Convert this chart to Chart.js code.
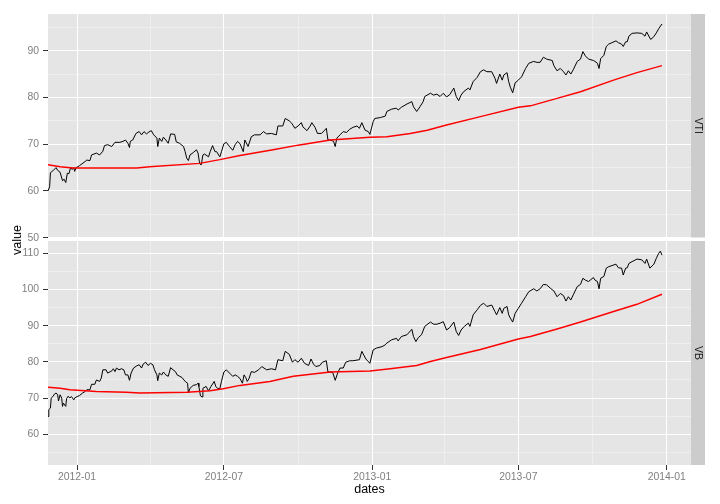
<!DOCTYPE html>
<html>
<head>
<meta charset="utf-8">
<script src="https://cdn.jsdelivr.net/npm/chart.js@4.4.0/dist/chart.umd.min.js"></script>
<style>
  body { margin: 0; background: #fff; }
  #wrap { position: relative; width: 720px; height: 504px; font-family: "Liberation Sans", Arial, sans-serif; }
  canvas { position: absolute; left: 0; }
  #top { top: 0; }
  #bottom { top: 241px; }
  #ylab { position: absolute; left: 16.5px; top: 239.5px; transform: translate(-50%, -50%) rotate(-90deg);
          font-size: 12.5px; color: #000; white-space: nowrap; }
</style>
</head>
<body>
<div id="wrap">
  <canvas id="top" width="720" height="241"></canvas>
  <canvas id="bottom" width="720" height="263"></canvas>
  <div id="ylab">value</div>
</div>
<script>
// VTI daily close
const vtiDates = ['2011-11-26','2011-11-28','2011-11-29','2011-12-02','2011-12-06','2011-12-08','2011-12-11','2011-12-14','2011-12-16','2011-12-18',
  '2011-12-20','2011-12-22','2011-12-24','2011-12-26','2011-12-28','2011-12-29','2011-12-31','2012-01-04','2012-01-11','2012-01-13',
  '2012-01-17','2012-01-19','2012-01-25','2012-01-29','2012-02-02','2012-02-04','2012-02-08','2012-02-13','2012-02-17','2012-02-23',
  '2012-02-27','2012-03-01','2012-03-04','2012-03-06','2012-03-07','2012-03-10','2012-03-14','2012-03-18','2012-03-21','2012-03-24',
  '2012-03-27','2012-03-30','2012-04-02','2012-04-05','2012-04-09','2012-04-10','2012-04-12','2012-04-15','2012-04-17','2012-04-20',
  '2012-04-23','2012-04-26','2012-05-01','2012-05-03','2012-05-07','2012-05-12','2012-05-14','2012-05-16','2012-05-18','2012-05-20',
  '2012-05-24','2012-05-28','2012-05-30','2012-06-01','2012-06-03','2012-06-05','2012-06-07','2012-06-12','2012-06-14','2012-06-17',
  '2012-06-20','2012-06-22','2012-06-26','2012-06-28','2012-07-01','2012-07-04','2012-07-08','2012-07-12','2012-07-15','2012-07-18',
  '2012-07-21','2012-07-25','2012-07-27','2012-07-31','2012-08-04','2012-08-08','2012-08-15','2012-08-19','2012-08-23','2012-08-29',
  '2012-09-04','2012-09-06','2012-09-12','2012-09-15','2012-09-20','2012-09-23','2012-09-27','2012-10-01','2012-10-05','2012-10-07',
  '2012-10-12','2012-10-16','2012-10-18','2012-10-22','2012-10-25','2012-10-30','2012-11-03','2012-11-05','2012-11-07','2012-11-10',
  '2012-11-14','2012-11-16','2012-11-18','2012-11-22','2012-11-26','2012-11-30','2012-12-04','2012-12-08','2012-12-13','2012-12-16',
  '2012-12-19','2012-12-23','2012-12-27','2012-12-29','2013-01-02','2013-01-04','2013-01-11','2013-01-17','2013-01-19','2013-01-25',
  '2013-01-31','2013-02-02','2013-02-06','2013-02-13','2013-02-19','2013-02-21','2013-02-25','2013-03-01','2013-03-05','2013-03-07',
  '2013-03-14','2013-03-18','2013-03-22','2013-03-26','2013-03-30','2013-04-03','2013-04-07','2013-04-12','2013-04-15','2013-04-18',
  '2013-04-21','2013-04-24','2013-04-30','2013-05-02','2013-05-06','2013-05-11','2013-05-15','2013-05-19','2013-05-23','2013-05-29',
  '2013-06-02','2013-06-04','2013-06-08','2013-06-11','2013-06-13','2013-06-17','2013-06-19','2013-06-21','2013-06-24','2013-06-27',
  '2013-07-01','2013-07-05','2013-07-10','2013-07-14','2013-07-20','2013-07-24','2013-07-28','2013-08-01','2013-08-05','2013-08-12',
  '2013-08-14','2013-08-18','2013-08-22','2013-08-26','2013-08-29','2013-09-01','2013-09-04','2013-09-07','2013-09-12','2013-09-16',
  '2013-09-19','2013-09-22','2013-09-26','2013-10-02','2013-10-04','2013-10-07','2013-10-09','2013-10-11','2013-10-15','2013-10-18',
  '2013-10-21','2013-10-25','2013-10-30','2013-11-02','2013-11-06','2013-11-08','2013-11-11','2013-11-13','2013-11-15','2013-11-19',
  '2013-11-25','2013-12-01','2013-12-05','2013-12-07','2013-12-12','2013-12-16','2013-12-19','2013-12-22','2013-12-26'];
const vtiClose = [60.0,60.9,63.9,64.3,65.0,64.4,64.0,62.2,62.5,61.8,
  63.8,63.7,65.0,64.6,65.0,64.2,65.0,65.4,66.3,66.6,
  66.5,67.7,68.1,67.7,68.5,69.7,69.9,69.5,70.4,70.4,
  70.6,70.9,70.2,69.3,70.6,70.9,72.3,72.7,72.0,72.7,
  72.2,72.6,72.9,72.0,71.3,69.5,71.3,70.6,71.5,70.9,
  70.2,72.2,72.1,70.5,70.2,69.5,68.4,67.0,66.5,67.7,
  68.2,68.8,68.1,65.8,65.6,67.7,67.9,67.3,68.4,69.7,
  68.4,68.4,67.3,68.4,70.1,70.4,69.5,68.7,69.9,70.6,
  70.1,68.4,70.9,69.5,71.6,72.0,72.0,72.7,72.2,72.3,
  72.0,73.9,73.9,75.5,75.0,74.5,73.4,73.9,74.6,73.7,
  72.9,73.9,74.6,73.6,72.3,72.3,73.0,73.4,70.9,70.9,
  70.6,69.5,71.3,72.0,72.7,72.5,73.2,73.6,73.9,73.4,
  74.6,73.0,72.7,72.1,74.8,75.5,75.7,76.0,77.0,77.5,
  77.7,77.3,77.9,78.6,79.1,78.0,77.0,78.0,79.1,80.2,
  80.9,80.5,80.7,80.2,80.9,80.1,80.6,82.0,80.2,79.3,
  80.5,81.2,82.0,81.6,83.4,84.3,85.5,85.9,85.5,85.5,
  84.1,83.0,85.0,83.7,84.8,85.3,83.4,82.2,81.0,83.1,
  83.7,84.4,86.2,87.3,87.7,87.5,87.5,88.6,88.2,87.9,
  86.8,85.7,86.2,85.5,84.8,85.7,85.0,85.9,87.7,88.2,
  89.8,88.9,88.2,87.9,87.7,87.3,86.2,88.3,89.0,90.9,
  91.4,91.7,92.1,91.7,91.4,90.9,91.9,91.9,93.1,93.7,
  93.8,93.7,93.1,94.0,92.4,93.0,93.8,94.7,95.7];

// VTI moving average
const vtiAvgDates = ['2011-11-26','2011-12-11','2011-12-27','2012-03-15','2012-03-31','2012-06-01','2012-06-26','2012-07-21',
  '2012-08-31','2012-10-01','2012-11-10','2012-12-29','2013-01-19','2013-02-17','2013-03-10','2013-04-03','2013-05-15',
  '2013-07-01','2013-07-16','2013-08-18','2013-09-16','2013-10-27','2013-11-25','2013-12-26'];
const vtiAvg = [65.6,65.2,64.9,64.9,65.2,65.9,66.7,67.6,
  68.8,69.8,70.9,71.5,71.6,72.3,73.0,74.1,75.9,
  77.9,78.2,79.8,81.2,83.7,85.3,86.8];

// VB daily close
const vbDates = ['2011-11-26','2011-11-27','2011-11-29','2011-11-30','2011-12-02','2011-12-04','2011-12-06','2011-12-08','2011-12-09','2011-12-11',
  '2011-12-13','2011-12-14','2011-12-15','2011-12-18','2011-12-19','2011-12-21','2011-12-23','2011-12-25','2011-12-28','2011-12-29',
  '2012-01-01','2012-01-04','2012-01-08','2012-01-11','2012-01-13','2012-01-17','2012-01-19','2012-01-23','2012-01-25','2012-01-29',
  '2012-01-31','2012-02-02','2012-02-06','2012-02-08','2012-02-13','2012-02-15','2012-02-17','2012-02-19','2012-02-22','2012-02-25',
  '2012-02-28','2012-03-01','2012-03-04','2012-03-06','2012-03-08','2012-03-11','2012-03-15','2012-03-18','2012-03-21','2012-03-23',
  '2012-03-26','2012-03-29','2012-04-01','2012-04-04','2012-04-06','2012-04-09','2012-04-10','2012-04-12','2012-04-15','2012-04-17',
  '2012-04-20','2012-04-23','2012-04-26','2012-04-29','2012-05-02','2012-05-04','2012-05-10','2012-05-14','2012-05-17','2012-05-18',
  '2012-05-20','2012-05-24','2012-05-28','2012-05-30','2012-05-31','2012-06-02','2012-06-04','2012-06-05','2012-06-09','2012-06-12',
  '2012-06-15','2012-06-19','2012-06-21','2012-06-23','2012-06-26','2012-06-28','2012-07-01','2012-07-04','2012-07-08','2012-07-12',
  '2012-07-15','2012-07-18','2012-07-21','2012-07-24','2012-07-26','2012-07-28','2012-07-30','2012-08-01','2012-08-04','2012-08-08',
  '2012-08-13','2012-08-17','2012-08-23','2012-08-29','2012-09-03','2012-09-06','2012-09-12','2012-09-15','2012-09-20','2012-09-24',
  '2012-09-27','2012-10-01','2012-10-05','2012-10-09','2012-10-14','2012-10-17','2012-10-20','2012-10-23','2012-10-28','2012-10-31',
  '2012-11-05','2012-11-07','2012-11-10','2012-11-13','2012-11-16','2012-11-19','2012-11-22','2012-11-26','2012-11-29','2012-12-04',
  '2012-12-08','2012-12-16','2012-12-19','2012-12-24','2012-12-29','2013-01-02','2013-01-06','2013-01-13','2013-01-17','2013-01-19',
  '2013-01-25','2013-01-31','2013-02-02','2013-02-06','2013-02-13','2013-02-19','2013-02-21','2013-02-24','2013-02-27','2013-03-03',
  '2013-03-07','2013-03-14','2013-03-18','2013-03-22','2013-03-26','2013-03-30','2013-04-03','2013-04-07','2013-04-12','2013-04-15',
  '2013-04-18','2013-04-21','2013-04-25','2013-04-30','2013-05-02','2013-05-06','2013-05-11','2013-05-15','2013-05-19','2013-05-23',
  '2013-05-29','2013-06-02','2013-06-04','2013-06-08','2013-06-11','2013-06-13','2013-06-17','2013-06-19','2013-06-21','2013-06-24',
  '2013-06-27','2013-07-01','2013-07-05','2013-07-10','2013-07-14','2013-07-20','2013-07-24','2013-07-28','2013-08-01','2013-08-05',
  '2013-08-10','2013-08-14','2013-08-18','2013-08-22','2013-08-26','2013-08-29','2013-09-01','2013-09-04','2013-09-07','2013-09-12',
  '2013-09-16','2013-09-19','2013-09-22','2013-09-26','2013-10-02','2013-10-04','2013-10-07','2013-10-09','2013-10-11','2013-10-15',
  '2013-10-18','2013-10-21','2013-10-25','2013-10-30','2013-11-02','2013-11-06','2013-11-08','2013-11-11','2013-11-13','2013-11-15',
  '2013-11-19','2013-11-25','2013-12-01','2013-12-05','2013-12-07','2013-12-11','2013-12-16','2013-12-19','2013-12-22','2013-12-24',
  '2013-12-26'];
const vbClose = [64.9,66.8,67.2,70.0,70.4,71.1,71.4,70.9,69.2,70.9,
  70.0,67.7,68.6,67.7,69.8,70.5,70.0,70.4,69.5,70.0,
  70.4,70.7,71.4,71.8,72.3,72.3,73.8,73.8,75.0,74.6,
  75.5,77.8,77.8,76.9,77.5,78.1,77.3,78.3,77.8,78.1,
  77.8,76.4,76.4,74.9,76.9,78.3,78.9,79.2,78.3,79.4,
  79.9,79.0,79.6,79.2,77.8,76.4,74.8,76.9,76.4,77.2,
  76.4,76.0,78.4,77.8,77.3,76.4,75.7,74.6,74.1,71.4,
  72.7,73.5,73.7,74.1,73.2,70.6,70.3,72.7,73.2,72.0,
  73.2,74.6,73.2,72.7,72.6,74.6,77.2,77.8,76.9,76.0,
  76.4,76.0,75.4,74.1,76.4,75.7,74.6,75.3,77.3,77.1,
  77.8,78.7,77.8,78.1,77.8,80.6,80.3,82.9,82.1,79.9,
  80.6,79.9,81.0,79.6,79.0,80.8,79.4,78.7,79.0,79.9,
  80.3,77.2,77.2,77.0,74.9,76.9,78.3,78.3,79.9,80.3,
  80.3,80.6,82.9,80.8,79.6,83.3,83.8,84.2,84.7,85.2,
  86.1,86.5,85.8,87.0,87.5,89.0,87.0,85.6,86.7,87.5,
  89.8,91.0,90.4,90.4,90.7,91.1,88.8,89.5,91.0,88.4,
  87.3,88.8,89.8,90.7,89.8,93.0,94.4,95.6,96.2,95.3,
  95.7,93.9,93.0,95.0,93.4,94.8,95.3,93.0,92.1,91.0,
  93.4,94.8,96.2,98.0,99.4,100.2,99.6,100.2,101.4,101.3,
  100.3,99.6,98.0,98.9,98.3,96.8,98.0,97.1,98.5,100.8,
  101.4,103.1,102.6,102.2,103.3,102.6,102.2,100.2,103.1,103.6,
  105.9,106.3,106.6,107.0,106.0,105.9,104.0,105.9,106.0,107.2,
  107.7,108.4,108.2,107.2,108.4,105.9,107.0,108.6,110.0,110.6,
  109.5];

// VB moving average
const vbAvgDates = ['2011-11-26','2011-12-11','2011-12-23','2012-01-25','2012-03-02','2012-03-19','2012-05-16','2012-06-14',
  '2012-06-30','2012-07-21','2012-08-27','2012-09-25','2012-11-10','2012-12-29','2013-01-23','2013-02-25','2013-03-14',
  '2013-04-03','2013-05-15','2013-07-01','2013-07-16','2013-08-18','2013-09-16','2013-10-27','2013-11-25','2013-12-26'];
const vbAvg = [73.0,72.7,72.3,71.8,71.6,71.4,71.6,72.0,
  72.6,73.5,74.6,76.0,77.2,77.5,78.1,79.0,80.1,
  81.2,83.4,86.3,87.0,89.1,91.0,93.9,95.9,98.7];

// axes
const xMajorDates = ['2012-01-01','2012-07-01','2013-01-01','2013-07-01','2014-01-01'];
const xMajorLabels = ['2012-01','2012-07','2013-01','2013-07','2014-01'];
const xMinorDates = ['2012-04-01','2012-10-01','2013-04-01','2013-10-01'];
const vtiTicks = [50,55,60,65,70,75,80,85,90,95];
const vbTicks = [55,60,65,70,75,80,85,90,95,100,105,110];

Chart.defaults.font.family = '"Liberation Sans", Arial, sans-serif';

function day(s) { return (Date.parse(s) - Date.parse('2012-01-01')) / 864e5; }
function pts(dates, vals) { return dates.map((d, i) => ({ x: day(d), y: vals[i] })); }

const majorDays = xMajorDates.map(day);
const xTickDays = majorDays.concat(xMinorDates.map(day)).sort((a, b) => a - b);

// no label overflow padding: panels must sit exactly
function noPad(s) { s.paddingTop = 0; s.paddingBottom = 0; s.paddingLeft = 0; s.paddingRight = 0; }

// grey panel + facet strip
const panelPlugin = {
  id: 'panel',
  beforeDraw(chart, args, opts) {
    const { ctx, chartArea: a } = chart;
    ctx.save();
    ctx.fillStyle = '#E5E5E5';
    ctx.fillRect(a.left, a.top, a.right - a.left, a.bottom - a.top);
    ctx.fillStyle = '#CCCCCC';
    ctx.fillRect(a.right, a.top, 14, a.bottom - a.top);
    ctx.translate(a.right + 7, (a.top + a.bottom) / 2);
    ctx.rotate(Math.PI / 2);
    ctx.fillStyle = '#1A1A1A';
    ctx.font = '10.4px "Liberation Sans", Arial, sans-serif';
    ctx.textAlign = 'center';
    ctx.textBaseline = 'middle';
    ctx.fillText(opts.label, 0, 0);
    ctx.restore();
  }
};

function facet(id, close, avg, yMin, yMax, yTicks, label, showX) {
  const isMajorY = c => c.tick && c.tick.value % 10 === 0;
  const isMajorX = c => c.tick && majorDays.includes(c.tick.value);
  return new Chart(document.getElementById(id), {
    type: 'line',
    data: {
      datasets: [
        { data: avg, borderColor: '#FF0000', borderWidth: 1.5, order: 0 },
        { data: close, borderColor: '#000000', borderWidth: 1, order: 1 }
      ]
    },
    options: {
      responsive: false,
      animation: false,
      events: [],
      layout: { padding: { top: showX ? 0 : 14, right: 29, left: 0, bottom: 0 } },
      elements: { point: { radius: 0 }, line: { tension: 0 } },
      plugins: { legend: { display: false }, tooltip: { enabled: false }, panel: { label: label } },
      scales: {
        x: {
          type: 'linear',
          min: day('2011-11-26'),
          max: day('2014-01-31'),
          afterBuildTicks: s => { s.ticks = xTickDays.map(v => ({ value: v })); },
          afterFit: s => { s.height = showX ? 39 : 3.5; noPad(s); },
          ticks: {
            display: showX, autoSkip: false, maxRotation: 0, padding: 1,
            color: '#7F7F7F', font: { size: 10.4 },
            callback: v => { const i = majorDays.indexOf(v); return i >= 0 ? xMajorLabels[i] : ''; }
          },
          grid: {
            color: c => isMajorX(c) ? '#FFFFFF' : '#F2F2F2',
            lineWidth: c => isMajorX(c) ? 1 : 0.7,
            drawTicks: showX, tickLength: 5, tickWidth: 1,
            tickColor: c => isMajorX(c) ? '#333333' : 'rgba(0,0,0,0)'
          },
          border: { display: false },
          title: { display: showX, text: 'dates', color: '#000000', font: { size: 12.5 }, padding: { top: 0, bottom: 7 } }
        },
        y: {
          min: yMin, max: yMax,
          afterBuildTicks: s => { s.ticks = yTicks.map(v => ({ value: v })); },
          afterFit: s => { s.width = 48; noPad(s); },
          ticks: {
            autoSkip: false, padding: 4, color: '#7F7F7F', font: { size: 10.4 },
            callback: v => v % 10 === 0 ? String(v) : ''
          },
          grid: {
            color: c => isMajorY(c) ? '#FFFFFF' : '#F2F2F2',
            lineWidth: c => isMajorY(c) ? 1 : 0.7,
            tickLength: 5, tickWidth: 1,
            tickColor: c => isMajorY(c) ? '#333333' : 'rgba(0,0,0,0)'
          },
          border: { display: false }
        }
      }
    },
    plugins: [panelPlugin]
  });
}

facet('top', pts(vtiDates, vtiClose), pts(vtiAvgDates, vtiAvg), 50.05, 97.84, vtiTicks, 'VTI', false);
facet('bottom', pts(vbDates, vbClose), pts(vbAvgDates, vbAvg), 51.5, 113.4, vbTicks, 'VB', true);
</script>
</body>
</html>
